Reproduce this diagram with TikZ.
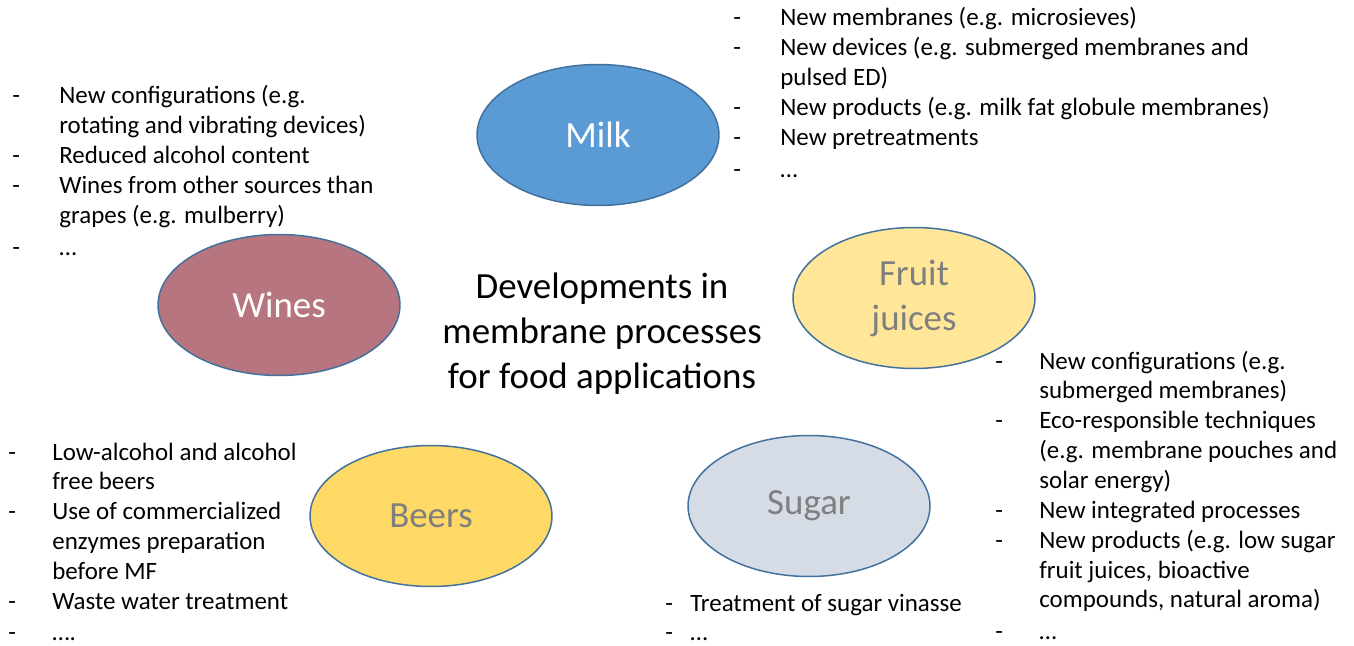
\documentclass[tikz,border=0pt]{standalone}
\usepackage{fontspec}
\setmainfont{Carlito}
\usetikzlibrary{shapes.geometric}
\definecolor{milkblue}{HTML}{5B9BD5}
\definecolor{winerose}{HTML}{B7767F}
\definecolor{juiceyellow}{HTML}{FFE699}
\definecolor{beergold}{HTML}{FFD966}
\definecolor{sugargrey}{HTML}{D6DCE5}
\definecolor{rimblue}{HTML}{41719C}
\definecolor{labelgrey}{HTML}{7F7F7F}
\def\ovalw{4.84cm}
\def\ovalh{2.82cm}
\def\widecol{0.94cm}
\def\midcol{0.88cm}
\def\narrowcol{0.5cm}
\def\labelfont{\fontsize{21}{25.6}\selectfont}
\def\listfont{\fontsize{14.2}{17}\selectfont}
\tikzset{
% Food oval
food/.style={
	ellipse, draw=rimblue, line width=0.85pt,
	minimum width=\ovalw, minimum height=\ovalh, inner sep=0pt,
	font=\labelfont, align=center, text=labelgrey,
	},
% Bullet list
list/.style={
	anchor=base west, inner sep=0pt, font=\listfont,
	},
% Title
title/.style={
	font=\labelfont, align=center,
	},
}
\begin{document}
\begin{tikzpicture}[x=0.02cm, y=-0.02cm]
		\useasboundingbox (0,0) rectangle (1354,645);

		% Foods
		\node[food, fill=milkblue, text=white] (milk) at (598,135) {Milk};
		\node[food, fill=winerose, text=white] (wines) at (279,305) {Wines};
		\node[food, fill=juiceyellow] (fruit_juices) at (914,298) {Fruit\\juices};
		\node[food, fill=beergold] (beers) at (431,516) {Beers};
		\node[food, fill=sugargrey] (sugar) at (809,506) {Sugar};

		% Title
		\node[title] (title) at (602,334) {Developments in\\membrane processes\\for food applications};

		% Milk list
		\node[list] (milk_list) at (733,26) {\begin{tabular}[t]{@{}p{\widecol}@{}l@{}}
			- & New membranes (e.g. microsieves)\\
			- & New devices (e.g. submerged membranes and\\
			  & pulsed ED)\\
			- & New products (e.g. milk fat globule membranes)\\
			- & New pretreatments\\[1pt]
			- & …
		\end{tabular}};

		% Wines list
		\node[list] (wines_list) at (12,104) {\begin{tabular}[t]{@{}p{\widecol}@{}l@{}}
			- & New configurations (e.g.\\
			  & rotating and vibrating devices)\\
			- & Reduced alcohol content\\
			- & Wines from other sources than\\
			  & grapes (e.g. mulberry)\\[1pt]
			- & …
		\end{tabular}};

		% Fruit juices list
		\node[list] (fruit_juices_list) at (995,369) {\begin{tabular}[t]{@{}p{\midcol}@{}l@{}}
			- & New configurations (e.g.\\
			  & submerged membranes)\\
			- & Eco-responsible techniques\\
			  & (e.g. membrane pouches and\\
			  & solar energy)\\
			- & New integrated processes\\
			- & New products (e.g. low sugar\\
			  & fruit juices, bioactive\\
			  & compounds, natural aroma)\\[1pt]
			- & …
		\end{tabular}};

		% Beers list
		\node[list] (beers_list) at (8,460) {\begin{tabular}[t]{@{}p{\midcol}@{}l@{}}
			- & Low-alcohol and alcohol\\
			  & free beers\\
			- & Use of commercialized\\
			  & enzymes preparation\\
			  & before MF\\
			- & Waste water treatment\\[1pt]
			- & ….
		\end{tabular}};

		% Sugar list
		\node[list] (sugar_list) at (665,611) {\begin{tabular}[t]{@{}p{\narrowcol}@{}l@{}}
			- & Treatment of sugar vinasse\\
			- & …
		\end{tabular}};
\end{tikzpicture}
\end{document}
